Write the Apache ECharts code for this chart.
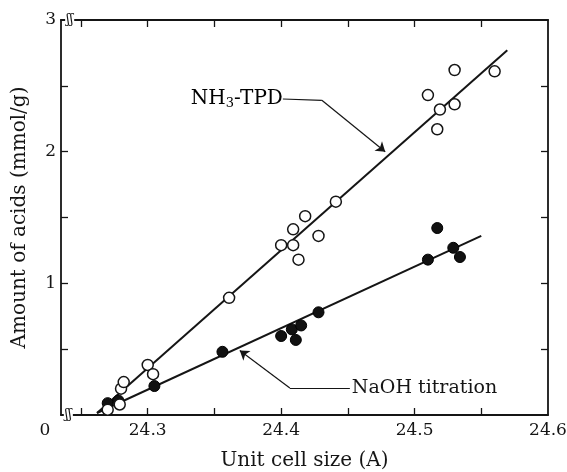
<!DOCTYPE html>
<html>
<head>
    <title>Acid amount vs unit cell size</title>
    <style>
        body { margin: 0; padding: 0; background: #fff; }
        #main { width: 567px; height: 472px; }
    </style>
</head>
<body>
    <div id="main"></div>
    <script src="https://cdn.jsdelivr.net/npm/echarts@6.0.0/dist/echarts.min.js"></script>
    <script>
        // NH3-TPD (open circles)
        const nh3Cell = [24.270, 24.279, 24.280, 24.282, 24.300, 24.304, 24.361, 24.400, 24.409, 24.409,
                         24.413, 24.418, 24.428, 24.441, 24.510, 24.517, 24.519, 24.530, 24.530, 24.560];
        const nh3Acid = [0.04, 0.08, 0.20, 0.25, 0.38, 0.31, 0.89, 1.29, 1.29, 1.41,
                         1.18, 1.51, 1.36, 1.62, 2.43, 2.17, 2.32, 2.36, 2.62, 2.61];
        // NaOH titration (filled circles)
        const naohCell = [24.270, 24.278, 24.305, 24.356, 24.400, 24.408, 24.411, 24.415, 24.428,
                          24.510, 24.517, 24.529, 24.534];
        const naohAcid = [0.09, 0.11, 0.22, 0.48, 0.60, 0.65, 0.57, 0.68, 0.78,
                          1.18, 1.42, 1.27, 1.20];
        // fitted straight lines (end points)
        const nh3Fit = [[24.262, 0.015], [24.5695, 2.77]];
        const naohFit = [[24.262, 0.015], [24.550, 1.36]];
        // axis ticks / labels
        const xMin = 24.235, xMax = 24.6;
        const xLabels = [24.235, 24.3, 24.4, 24.5, 24.6];
        const xTicks = [24.25, 24.3, 24.35, 24.4, 24.45, 24.5, 24.55];
        const yLabels = [1, 2, 3];
        const yTicks = [0.5, 1, 1.5, 2, 2.5];
        // annotation leaders: label end, bend, arrow tip
        const nh3Leader = [[24.4013, 2.40], [24.4305, 2.39], [24.478, 2.0]];
        const naohLeader = [[24.4515, 0.205], [24.4065, 0.205], [24.369, 0.49]];

        const ink = '#151515';
        const serif = '"DejaVu Serif", "Liberation Serif", serif';

        const zip = (xs, ys) => xs.map((x, i) => [x, ys[i]]);

        function leaderLines(pts) {
            return [
                [{ coord: pts[0], symbol: 'none' }, { coord: pts[1], symbol: 'none' }],
                [{ coord: pts[1], symbol: 'none' }, { coord: pts[2], symbol: 'arrow' }]
            ];
        }

        const boxAxis = {
            axisLine: { show: true, onZero: false, lineStyle: { color: ink, width: 1.8 } },
            axisTick: { show: true, inside: true, length: 7, lineStyle: { color: ink, width: 1.3 } },
            splitLine: { show: false }
        };

        const option = {
            animation: false,
            backgroundColor: '#fff',
            grid: { left: 61, right: 19, top: 20, bottom: 57, outerBoundsMode: 'none', containLabel: false },
            xAxis: [
                Object.assign({}, boxAxis, {
                    type: 'value', min: xMin, max: xMax, position: 'bottom',
                    axisTick: Object.assign({}, boxAxis.axisTick, { customValues: xTicks }),
                    axisLabel: {
                        customValues: xLabels, margin: 7,
                        fontFamily: serif, fontSize: 17, color: ink,
                        formatter: v => v < 24.25 ? '{z|0}' : v.toFixed(1),
                        rich: { z: { fontFamily: serif, fontSize: 17, color: ink, padding: [0, 32, 0, 0] } }
                    },
                    name: 'Unit cell size (A)', nameLocation: 'middle', nameGap: 36,
                    nameTextStyle: { fontFamily: serif, fontSize: 20, color: ink }
                }),
                Object.assign({}, boxAxis, {
                    type: 'value', min: xMin, max: xMax, position: 'top',
                    axisTick: Object.assign({}, boxAxis.axisTick, { customValues: xTicks }),
                    axisLabel: { show: false }
                })
            ],
            yAxis: [
                Object.assign({}, boxAxis, {
                    type: 'value', min: 0, max: 3, position: 'left',
                    axisTick: Object.assign({}, boxAxis.axisTick, { customValues: yTicks }),
                    axisLabel: { customValues: yLabels, margin: 5, fontFamily: serif, fontSize: 17, color: ink },
                    name: 'Amount of acids (mmol/g)', nameLocation: 'middle', nameGap: 31,
                    nameTextStyle: { fontFamily: serif, fontSize: 20, color: ink }
                }),
                Object.assign({}, boxAxis, {
                    type: 'value', min: 0, max: 3, position: 'right',
                    axisTick: Object.assign({}, boxAxis.axisTick, { customValues: yTicks }),
                    axisLabel: { show: false }
                })
            ],
            series: [
                {
                    name: 'NH3-TPD fit', type: 'line', data: nh3Fit, showSymbol: false, silent: true,
                    lineStyle: { color: ink, width: 2 }, z: 1,
                    markLine: {
                        silent: true, symbolSize: 9, label: { show: false },
                        lineStyle: { color: ink, width: 1.2, type: 'solid' },
                        data: leaderLines(nh3Leader)
                    }
                },
                {
                    name: 'NaOH fit', type: 'line', data: naohFit, showSymbol: false, silent: true,
                    lineStyle: { color: ink, width: 2 }, z: 1,
                    markLine: {
                        silent: true, symbolSize: 9, label: { show: false },
                        lineStyle: { color: ink, width: 1.2, type: 'solid' },
                        data: leaderLines(naohLeader)
                    }
                },
                {
                    name: 'NaOH titration', type: 'scatter', data: zip(naohCell, naohAcid),
                    symbolSize: 11, z: 3,
                    itemStyle: { color: '#111', borderColor: '#000', borderWidth: 1, opacity: 1 }
                },
                {
                    name: 'NH3-TPD', type: 'scatter', data: zip(nh3Cell, nh3Acid),
                    symbolSize: 11, z: 4,
                    itemStyle: { color: '#fff', borderColor: ink, borderWidth: 1.5, opacity: 1 }
                }
            ]
        };

        const chart = echarts.init(document.getElementById('main'));
        chart.setOption(option);

        // labels and axis break marks placed from data coordinates
        const px = p => chart.convertToPixel({ xAxisIndex: 0, yAxisIndex: 0 }, p);
        const nh3At = px(nh3Leader[0]);
        const naohAt = px(naohLeader[0]);
        const brkBottom = px([24.2405, 0]);
        const brkTop = px([24.2415, 3]);
        const textStyle = { fontFamily: serif, fontSize: 19, fill: ink };
        const brkStyle = { text: 'ʃʃ', align: 'center', verticalAlign: 'middle', fontFamily: serif, fontSize: 13, fill: ink, backgroundColor: '#fff', padding: [0, 1] };

        chart.setOption({
            graphic: [
                {
                    type: 'text', x: nh3At[0], y: nh3At[1],
                    style: {
                        text: '{a|NH}{s|3}{a|-TPD}', align: 'right', verticalAlign: 'middle',
                        rich: {
                            a: { fontFamily: serif, fontSize: 20, color: ink },
                            s: { fontFamily: serif, fontSize: 13, color: ink, verticalAlign: 'bottom', padding: [9, 0, 0, 0] }
                        }
                    }
                },
                {
                    type: 'text', x: naohAt[0] + 2, y: naohAt[1],
                    style: Object.assign({ text: 'NaOH titration', align: 'left', verticalAlign: 'middle' }, textStyle)
                },
                { type: 'text', x: brkBottom[0], y: brkBottom[1], z: 100, style: brkStyle },
                { type: 'text', x: brkTop[0], y: brkTop[1], z: 100, style: brkStyle }
            ]
        });
    </script>
</body>
</html>
